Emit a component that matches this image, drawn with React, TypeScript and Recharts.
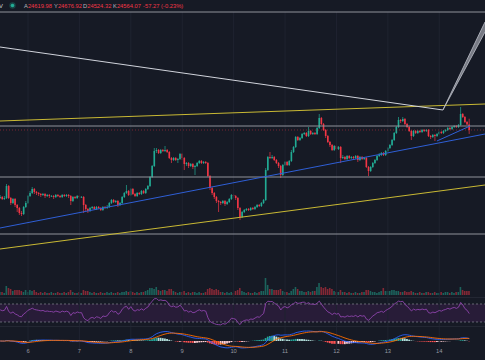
import React from "react";
import { ComposedChart, Bar, Line, XAxis, YAxis, ReferenceLine, ReferenceArea, Cell } from "recharts";

const W = 485;
const BG = "#161a25";
const UP = "#22ab94";
const DOWN = "#f23645";
const VOL_UP = "rgba(34,171,148,0.5)";
const VOL_DOWN = "rgba(242,54,69,0.5)";
const GRID = "#1f2330";
const FONT = "'Liberation Sans', Arial, sans-serif";

// x axis: one hourly candle per index
const X_DOMAIN: [number, number] = [-0.07, 226.35];
const dayIndex = [13, 37, 61, 85, 109, 133, 157, 181, 205];
const dayLabels = ["6", "7", "8", "9", "10", "11", "12", "13", "14"];

// legend (last candle)
const legendLabels = ["A", "Y", "D", "K"];
const legendValues = ["24619.98", "24676.92", "24524.32", "24564.07"];
const legendChange = "-57.27 (-0.23%)";

const firstOpen = 23884;
const closes = [
  23894, 23874, 23884, 24004, 23884, 23834, 23874, 23814, 23784, 23734,
  23724, 23794, 23834, 23904, 23934, 23974, 23944, 23934, 23924, 23914,
  23924, 23904, 23914, 23904, 23904, 23894, 23914, 23904, 23894, 23914,
  23904, 23914, 23904, 23854, 23894, 23884, 23904, 23894, 23894, 23814,
  23774, 23754, 23784, 23794, 23774, 23794, 23784, 23764, 23794, 23784,
  23794, 23834, 23864, 23844, 23854, 23814, 23834, 23894, 23934, 23954,
  23914, 23974, 23924, 23904, 23934, 23924, 23954, 23934, 23974, 24004,
  24094, 24204, 24354, 24364, 24334, 24364, 24354, 24364, 24344, 24284,
  24264, 24284, 24264, 24274, 24324, 24284, 24224, 24234, 24204, 24224,
  24194, 24204, 24234, 24254, 24234, 24244, 24234, 24104, 23984, 23934,
  23894, 23854, 23844, 23834, 23854, 23824, 23844, 23874, 23914, 23904,
  23884, 23784, 23694, 23744, 23764, 23774, 23764, 23784, 23774, 23794,
  23814, 23804, 23834, 23864, 24164, 24294, 24284, 24294, 24264, 24234,
  24204, 24114, 24214, 24244, 24214, 24254, 24344, 24394, 24494, 24464,
  24484, 24524, 24534, 24504, 24554, 24524, 24534, 24524, 24584, 24684,
  24624, 24564, 24504, 24444, 24414, 24364, 24404, 24374, 24394, 24284,
  24294, 24274, 24304, 24284, 24294, 24284, 24304, 24264, 24294, 24274,
  24284, 24194, 24154, 24194, 24234, 24264, 24304, 24314, 24334, 24314,
  24354, 24384, 24414, 24464, 24534, 24594, 24664, 24654, 24674, 24624,
  24594, 24554, 24504, 24554, 24534, 24554, 24544, 24564, 24554, 24564,
  24504, 24494, 24514, 24504, 24524, 24544, 24534, 24554, 24564, 24584,
  24574, 24594, 24604, 24594, 24614, 24724, 24694, 24644, 24619.98, 24564.07,
];
const highs = [
  23914, 23904, 23904, 24024, 24014, 23894, 23884, 23884, 23824, 23794,
  23754, 23804, 23854, 23914, 23954, 23994, 23984, 23954, 23944, 23934,
  23934, 23934, 23924, 23924, 23914, 23914, 23924, 23924, 23914, 23924,
  23924, 23924, 23924, 23914, 23904, 23904, 23914, 23914, 23904, 23904,
  23824, 23784, 23794, 23804, 23804, 23804, 23804, 23794, 23804, 23804,
  23814, 23844, 23874, 23874, 23864, 23864, 23844, 23904, 23944, 24014,
  23964, 23984, 23984, 23934, 23944, 23944, 23964, 23964, 23984, 24014,
  24104, 24214, 24384, 24384, 24374, 24374, 24374, 24404, 24374, 24354,
  24294, 24294, 24294, 24284, 24334, 24334, 24294, 24244, 24244, 24234,
  24234, 24214, 24244, 24264, 24264, 24254, 24254, 24244, 24114, 23994,
  23944, 23904, 23864, 23854, 23864, 23864, 23854, 23884, 23924, 23924,
  23914, 23894, 23794, 23754, 23774, 23784, 23784, 23794, 23794, 23804,
  23824, 23824, 23844, 23874, 24184, 24304, 24344, 24314, 24304, 24274,
  24244, 24214, 24224, 24254, 24254, 24264, 24364, 24404, 24504, 24504,
  24494, 24534, 24544, 24544, 24594, 24564, 24544, 24544, 24594, 24724,
  24694, 24634, 24574, 24514, 24454, 24424, 24414, 24414, 24404, 24404,
  24314, 24304, 24314, 24314, 24304, 24304, 24314, 24314, 24304, 24304,
  24294, 24294, 24204, 24204, 24244, 24274, 24314, 24334, 24344, 24344,
  24364, 24394, 24424, 24474, 24544, 24604, 24694, 24674, 24694, 24684,
  24634, 24604, 24564, 24564, 24564, 24564, 24564, 24574, 24574, 24574,
  24574, 24514, 24524, 24524, 24534, 24554, 24554, 24564, 24574, 24594,
  24594, 24604, 24614, 24614, 24624, 24794, 24734, 24704, 24654, 24676.92,
];
const lows = [
  23874, 23864, 23864, 23874, 23874, 23814, 23824, 23794, 23744, 23714,
  23704, 23714, 23784, 23824, 23894, 23924, 23924, 23914, 23904, 23894,
  23904, 23884, 23894, 23884, 23894, 23874, 23884, 23894, 23884, 23884,
  23894, 23894, 23884, 23814, 23844, 23874, 23874, 23884, 23884, 23734,
  23754, 23734, 23744, 23774, 23764, 23764, 23774, 23754, 23754, 23774,
  23774, 23784, 23824, 23834, 23834, 23794, 23804, 23824, 23884, 23924,
  23904, 23904, 23914, 23894, 23894, 23914, 23914, 23924, 23924, 23964,
  23994, 24084, 24194, 24334, 24324, 24324, 24344, 24344, 24334, 24274,
  24234, 24254, 24254, 24234, 24264, 24264, 24164, 24204, 24184, 24194,
  24174, 24114, 24194, 24224, 24224, 24224, 24224, 24094, 23964, 23914,
  23874, 23834, 23744, 23814, 23824, 23804, 23814, 23834, 23864, 23884,
  23864, 23764, 23664, 23684, 23734, 23754, 23754, 23754, 23764, 23764,
  23784, 23794, 23794, 23824, 23854, 24154, 24274, 24274, 24254, 24224,
  24184, 24084, 24104, 24204, 24204, 24204, 24244, 24334, 24384, 24454,
  24454, 24474, 24514, 24494, 24494, 24514, 24514, 24514, 24514, 24574,
  24614, 24554, 24484, 24434, 24394, 24354, 24354, 24364, 24364, 24234,
  24274, 24264, 24264, 24274, 24274, 24264, 24274, 24244, 24254, 24264,
  24264, 24184, 24104, 24144, 24184, 24224, 24254, 24294, 24304, 24304,
  24304, 24344, 24374, 24404, 24454, 24524, 24584, 24634, 24644, 24614,
  24584, 24544, 24464, 24494, 24524, 24524, 24534, 24534, 24544, 24544,
  24494, 24474, 24484, 24454, 24494, 24514, 24524, 24524, 24544, 24554,
  24564, 24564, 24584, 24584, 24584, 24604, 24684, 24634, 24614, 24524.32,
];
const volumes = [
  300, 300, 200, 900, 700, 600, 400, 500, 500, 500,
  400, 300, 500, 300, 500, 400, 500, 300, 200, 300,
  200, 300, 200, 200, 300, 200, 200, 300, 200, 200,
  300, 200, 300, 500, 300, 200, 200, 300, 200, 500,
  400, 400, 300, 200, 300, 200, 200, 300, 200, 200,
  300, 200, 300, 200, 200, 300, 200, 300, 300, 400,
  300, 400, 300, 200, 300, 200, 300, 300, 400, 500,
  700, 700, 600, 800, 500, 400, 500, 500, 400, 600,
  600, 400, 300, 200, 300, 300, 400, 200, 300, 200,
  300, 300, 200, 300, 200, 200, 300, 600, 700, 600,
  500, 600, 500, 300, 300, 200, 300, 200, 300, 200,
  400, 500, 700, 400, 300, 200, 300, 200, 200, 300,
  200, 300, 400, 400, 1700, 1000, 600, 600, 500, 500,
  500, 600, 400, 300, 300, 200, 400, 600, 800, 600,
  400, 400, 300, 300, 400, 300, 400, 400, 800, 1200,
  800, 700, 800, 600, 700, 600, 400, 300, 300, 500,
  300, 300, 200, 300, 200, 200, 300, 200, 200, 300,
  300, 500, 500, 400, 300, 300, 200, 300, 400, 700,
  400, 400, 400, 500, 500, 400, 400, 300, 300, 400,
  300, 300, 400, 300, 200, 200, 300, 200, 200, 300,
  300, 200, 200, 300, 200, 200, 300, 200, 300, 300,
  200, 300, 200, 300, 300, 800, 500, 400, 400, 400,
];

// drawings: horizontal price levels and trend lines [index, price]
const hLevels = [25744, 24604, 24094, 23524];
const lastPrice = 24564.07;
const yellowTop = [[-0.07, 24654], [226.35, 24824]];
const yellowBottom = [[-0.07, 23374], [226.35, 24014]];
const blueMain = [[-0.07, 23584], [226.35, 24524]];
const blueShort = [[203.9, 24454], [219.4, 24604]];
const whiteLine = [[-0.07, 25394], [206.7, 24764]];
const wedgeA = [[206.7, 24764], [226.35, 25644]];
const wedgeB = [[206.7, 24764], [226.35, 25544]];

// indicators derived from the candles
function computeRsi(c: number[], period = 14) {
  let ag = 24, al = 18;
  const out: number[] = [100 - 100 / (1 + ag / al)];
  for (let i = 1; i < c.length; i++) {
    const d = c[i] - c[i - 1];
    ag = (ag * (period - 1) + Math.max(d, 0)) / period;
    al = (al * (period - 1) + Math.max(-d, 0)) / period;
    out.push(100 - 100 / (1 + ag / al));
  }
  return out;
}
function ema(v: number[], n: number, seed: number) {
  const k = 2 / (n + 1);
  let e = seed;
  return v.map((x) => (e = x * k + e * (1 - k)));
}
const rsi = computeRsi(closes);
const e12 = ema(closes, 12, closes[0]);
const e26 = ema(closes, 26, closes[0]);
const macd = e12.map((v, i) => v - e26[i]);
const signal = ema(macd, 9, 0);
const hist = macd.map((v, i) => v - signal[i]);

const rows = closes.map((c, i) => {
  const open = i === 0 ? firstOpen : closes[i - 1];
  return {
    i,
    open,
    close: c,
    high: highs[i],
    low: lows[i],
    range: [lows[i], highs[i]],
    volume: volumes[i],
    rsi: rsi[i],
    macd: macd[i],
    signal: signal[i],
    hist: hist[i],
  };
});

const histColor = (i: number) => {
  const h = hist[i];
  const p = i > 0 ? hist[i - 1] : 0;
  if (h >= 0) return h > p ? "#26a69a" : "#b2dfdb";
  return h < p ? "#ff5252" : "#ffcdd2";
};

const macdPeak = Math.max(...macd);
const pxUnit = 10 / macdPeak;
const MACD_DOMAIN: [number, number] = [-8 / pxUnit, 14 / pxUnit];

const Candle = (props: any) => {
  const { x, y, width, height, payload } = props;
  const { open, close, high, low } = payload;
  const color = close >= open ? UP : DOWN;
  const ratio = height / (high - low);
  const top = y + (high - Math.max(open, close)) * ratio;
  const bottom = y + (high - Math.min(open, close)) * ratio;
  const cx = x + width / 2;
  return (
    <g>
      <line x1={cx} x2={cx} y1={y} y2={y + height} stroke={color} strokeWidth={0.7} />
      <rect x={cx - 0.8} y={top} width={1.6} height={Math.max(0.7, bottom - top)} fill={color} />
    </g>
  );
};

const WedgeShape = (props: any) => {
  const { x, y, width, height } = props;
  if (x == null || y == null) return null;
  const frac = (wedgeA[1][1] - wedgeB[1][1]) / (wedgeA[1][1] - wedgeA[0][1]);
  return (
    <polygon
      points={`${x},${y + height} ${x + width},${y} ${x + width},${y + height * frac}`}
      fill="#8a8d96"
      fillOpacity={0.85}
      stroke="none"
    />
  );
};

const seg = (s: number[][]) => [
  { x: s[0][0], y: s[0][1] },
  { x: s[1][0], y: s[1][1] },
];

const zero = { top: 0, right: 0, bottom: 0, left: 0 };

const dayGrid = (key: string) =>
  dayIndex.map((d) => <ReferenceLine key={key + d} x={d} stroke={GRID} strokeWidth={1} ifOverflow="visible" />);

export default function App() {
  return (
    <div style={{ position: "fixed", left: 0, top: 0, width: W, height: 360, background: BG, overflow: "hidden" }}>
      {/* volume */}
      <div style={{ position: "absolute", left: 0, top: 262 }}>
        <ComposedChart width={W} height={33} data={rows} margin={zero}>
          <XAxis dataKey="i" type="number" domain={X_DOMAIN} hide allowDataOverflow />
          <YAxis type="number" domain={[0, 3300]} hide allowDataOverflow />
          <Bar dataKey="volume" barSize={1.6} isAnimationActive={false}>
            {rows.map((r, i) => (
              <Cell key={i} fill={r.close >= r.open ? VOL_UP : VOL_DOWN} />
            ))}
          </Bar>
        </ComposedChart>
      </div>

      {/* main price pane */}
      <div style={{ position: "absolute", left: 0, top: 0 }}>
        <ComposedChart width={W} height={298} data={rows} margin={zero}>
          <XAxis dataKey="i" type="number" domain={X_DOMAIN} hide allowDataOverflow />
          <YAxis type="number" domain={[22884, 25864]} hide allowDataOverflow />
          {dayIndex.map((d) => (
            <ReferenceLine
              key={"g" + d}
              segment={[{ x: d, y: 25744 }, { x: d, y: 22884 }]}
              stroke={GRID}
              strokeWidth={1}
              ifOverflow="visible"
            />
          ))}
          {hLevels.map((p) => (
            <ReferenceLine key={"h" + p} y={p} stroke="#8f929b" strokeWidth={1} ifOverflow="visible" />
          ))}
          <ReferenceLine y={lastPrice} stroke="rgba(242,54,69,0.45)" strokeDasharray="1 2" strokeWidth={1} ifOverflow="visible" />
          <ReferenceLine segment={seg(yellowTop)} stroke="#c9b934" strokeWidth={1} ifOverflow="visible" />
          <ReferenceLine segment={seg(yellowBottom)} stroke="#c9b934" strokeWidth={1} ifOverflow="visible" />
          <ReferenceLine segment={seg(blueMain)} stroke="#2f5fd6" strokeWidth={1} ifOverflow="visible" />
          <ReferenceLine segment={seg(blueShort)} stroke="#2f5fd6" strokeWidth={1} ifOverflow="visible" />
          <ReferenceLine segment={seg(whiteLine)} stroke="#d1d4dc" strokeWidth={1} ifOverflow="visible" />
          <ReferenceArea
            x1={wedgeA[0][0]}
            x2={wedgeA[1][0]}
            y1={wedgeA[0][1]}
            y2={wedgeA[1][1]}
            shape={WedgeShape}
            ifOverflow="visible"
          />
          <ReferenceLine segment={seg(wedgeA)} stroke="#b2b5be" strokeWidth={0.9} ifOverflow="visible" />
          <ReferenceLine segment={seg(wedgeB)} stroke="#b2b5be" strokeWidth={0.9} ifOverflow="visible" />
          <Bar dataKey="range" barSize={2} shape={Candle} isAnimationActive={false} />
        </ComposedChart>
      </div>

      <div style={{ position: "absolute", left: 0, top: 297, width: W, height: 1, background: "#232733" }} />

      {/* RSI pane */}
      <div style={{ position: "absolute", left: 0, top: 297 }}>
        <ComposedChart width={W} height={29} data={rows} margin={zero}>
          <XAxis dataKey="i" type="number" domain={X_DOMAIN} hide allowDataOverflow />
          <YAxis type="number" domain={[21.11, 85.56]} hide allowDataOverflow />
          {dayGrid("r")}
          <ReferenceArea y1={30} y2={70} fill="#9c27b0" fillOpacity={0.14} ifOverflow="visible" />
          <ReferenceLine y={70} stroke="#787b86" strokeDasharray="2 2" strokeWidth={0.8} />
          <ReferenceLine y={30} stroke="#787b86" strokeDasharray="2 2" strokeWidth={0.8} />
          <Line dataKey="rsi" stroke="#8e44ad" strokeWidth={0.9} dot={false} isAnimationActive={false} />
        </ComposedChart>
      </div>

      <div style={{ position: "absolute", left: 0, top: 326, width: W, height: 1, background: "#232733" }} />

      {/* MACD pane */}
      <div style={{ position: "absolute", left: 0, top: 327 }}>
        <ComposedChart width={W} height={22} data={rows} margin={zero}>
          <XAxis dataKey="i" type="number" domain={X_DOMAIN} hide allowDataOverflow />
          <YAxis type="number" domain={MACD_DOMAIN} hide allowDataOverflow />
          {dayGrid("m")}
          <Bar dataKey="hist" barSize={1.8} isAnimationActive={false}>
            {rows.map((r, i) => (
              <Cell key={i} fill={histColor(i)} />
            ))}
          </Bar>
          <Line dataKey="macd" stroke="#2962ff" strokeWidth={0.9} dot={false} isAnimationActive={false} />
          <Line dataKey="signal" stroke="#ff6d00" strokeWidth={0.9} dot={false} isAnimationActive={false} />
        </ComposedChart>
      </div>

      {/* time axis */}
      <div style={{ position: "absolute", left: 0, top: 335 }}>
        <ComposedChart width={W} height={25} data={rows} margin={zero}>
          <XAxis
            dataKey="i"
            type="number"
            domain={X_DOMAIN}
            allowDataOverflow
            ticks={dayIndex}
            interval={0}
            tickFormatter={(v: number) => dayLabels[dayIndex.indexOf(v)]}
            axisLine={false}
            tickLine={false}
            tickSize={0}
            tickMargin={2}
            height={13}
            tick={{ fontSize: 5.8, fill: "#9598a1", fontFamily: FONT }}
          />
          <YAxis hide domain={[0, 1]} />
          <Line dataKey="close" stroke="none" dot={false} isAnimationActive={false} />
        </ComposedChart>
      </div>

      {/* legend */}
      <svg width={W} height={12} style={{ position: "absolute", left: 0, top: 0 }}>
        <text x={-1} y={7.8} fontSize={5.8} fontFamily={FONT} fill="#d1d4dc">V</text>
        <circle cx={12.5} cy={5.5} r={3.2} fill="rgba(34,171,148,0.3)" />
        <circle cx={12.5} cy={5.5} r={1.8} fill={UP} />
        {legendLabels.map((l, k) => (
          <text key={l} x={[24, 54, 83, 113][k]} y={7.8} fontSize={5.8} fontFamily={FONT}>
            <tspan fill="#b2b5be">{l}</tspan>
            <tspan fill={DOWN}>{legendValues[k]}</tspan>
          </text>
        ))}
        <text x={143} y={7.8} fontSize={5.8} fontFamily={FONT} fill={DOWN}>{legendChange}</text>
      </svg>
    </div>
  );
}
